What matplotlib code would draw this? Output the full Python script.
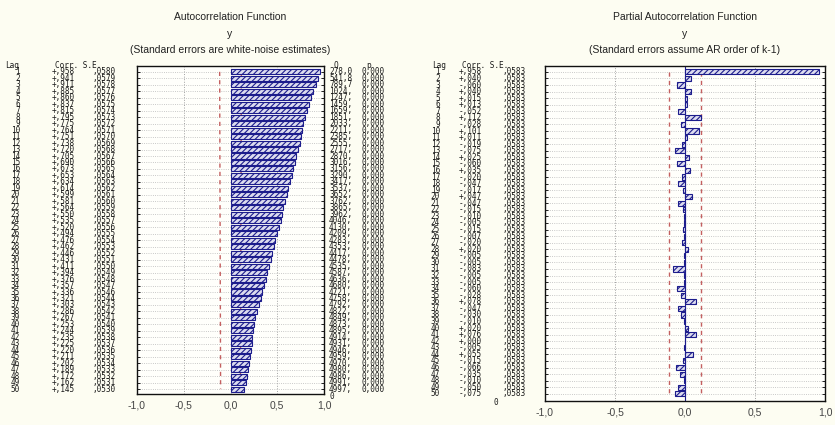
import matplotlib
matplotlib.use('Agg')
import matplotlib.pyplot as plt
import matplotlib.transforms as mtransforms

# ---- data ----
lags = list(range(1, 51))

acf_corr = [.958, .941, .911, .885, .860, .837, .815, .795, .775, .764,
            .751, .738, .720, .705, .690, .673, .653, .634, .614, .599,
            .581, .564, .550, .535, .520, .494, .476, .462, .446, .431,
            .411, .394, .376, .357, .336, .321, .303, .286, .267, .253,
            .244, .235, .225, .220, .211, .202, .189, .172, .162, .145]

acf_se = [.0580, .0579, .0578, .0577, .0576, .0575, .0574, .0573, .0572, .0571,
          .0570, .0569, .0568, .0567, .0566, .0565, .0564, .0563, .0562, .0561,
          .0560, .0559, .0558, .0557, .0556, .0555, .0554, .0553, .0552, .0551,
          .0550, .0549, .0548, .0547, .0546, .0544, .0543, .0542, .0541, .0540,
          .0539, .0538, .0537, .0536, .0535, .0534, .0533, .0532, .0531, .0530]

acf_q = [278.0, 541.8, 789.7, 1024, 1247, 1459, 1659, 1851, 2033, 2211,
         2385, 2555, 2717, 2870, 3016, 3156, 3290, 3417, 3537, 3652,
         3762, 3865, 3962, 4046, 4130, 4209, 4283, 4353, 4417, 4478,
         4535, 4587, 4636, 4680, 4721, 4758, 4792, 4822, 4849, 4873,
         4895, 4914, 4931, 4946, 4959, 4970, 4980, 4986, 4991, 4997]

pacf_corr = [.958, .040, -.060, .040, .015, .013, -.052, .112, -.028, .101,
             .011, -.019, -.075, .025, -.060, .035, -.020, -.047, -.017, .047,
             -.047, -.015, -.010, -.005, -.015, -.007, -.020, .020, -.005, -.005,
             -.083, -.005, -.005, -.060, -.028, .078, -.047, -.030, -.010, .020,
             .076, .000, -.005, .055, -.015, -.066, -.035, -.010, -.050, -.075]

pacf_se = [.0583] * 50

xticks = [-1.0, -0.5, 0.0, 0.5, 1.0]
xticklabels = ['-1,0', '-0,5', '0,0', '0,5', '1,0']

# ---- styling ----
W, H = 835, 425
BG = '#fdfdf2'
NAVY = '#1c1c8c'
DASH = '#c46060'
MONO = 'DejaVu Sans Mono'

plt.rcParams['hatch.linewidth'] = 0.8
plt.rcParams['font.family'] = ['Liberation Sans', 'DejaVu Sans']

fig = plt.figure(figsize=(W / 100, H / 100), dpi=100, facecolor=BG)


def box(x0, y0, x1, y1):
    return [x0 / W, 1 - y1 / H, (x1 - x0) / W, (y1 - y0) / H]


def fmt_corr(v):
    return ('-' if v < 0 else '+') + ',%03d' % round(abs(v) * 1000)


def fmt_se(v):
    return ',%04d' % round(v * 10000)


def fmt_q(v):
    if v < 1000:
        return ('%.1f' % v).replace('.', ',')
    return '%d,' % v


def setup(ax, ybottom):
    ax.set_facecolor('#fffffb')
    ax.set_xlim(-1, 1)
    ax.set_ylim(ybottom, 0.1)
    ax.set_xticks(xticks)
    ax.set_xticklabels(xticklabels, fontsize=7.5, color='#444444')
    ax.set_yticks(lags)
    ax.set_yticklabels([])
    ax.tick_params(axis='x', length=0, pad=5)
    ax.tick_params(axis='y', length=2, direction='in', left=True, right=True, width=0.6)
    ax.grid(axis='y', ls=':', color='#b8b8b8', lw=0.6)
    ax.grid(axis='x', ls=':', color='#a0a0a0', lw=0.7)
    ax.set_axisbelow(True)
    for s in ax.spines.values():
        s.set_linewidth(1.0)
        s.set_color('#111111')


def txt(ax, px, y, s, ha='left'):
    tr = mtransforms.blended_transform_factory(fig.transFigure, ax.transData)
    ax.text(px / W, y, s, transform=tr, ha=ha, va='center', fontsize=5.6,
            family=MONO, color='#1a1a1a', clip_on=False)


# ---- left panel: ACF ----
axL = fig.add_axes(box(137, 66, 324, 394))
setup(axL, 50.75)
axL.plot([-2 * s for s in acf_se], lags, ls=(0, (3, 3)), color=DASH, lw=1.0, zorder=1)
axL.plot([2 * s for s in acf_se], lags, ls=(0, (3, 3)), color=DASH, lw=1.0, zorder=1)
axL.barh(lags, acf_corr, height=0.78, color='#dcdcef', edgecolor=NAVY,
         hatch='//////', linewidth=0.8, zorder=3)

txt(axL, 5, 0.0, 'Lag')
txt(axL, 55, 0.0, 'Corr. S.E.')
txt(axL, 334, 0.0, 'Q')
txt(axL, 366, 0.0, 'p')
for i, lag in enumerate(lags):
    txt(axL, 20, lag, str(lag), ha='right')
    txt(axL, 52, lag, fmt_corr(acf_corr[i]))
    txt(axL, 93, lag, fmt_se(acf_se[i]))
    txt(axL, 329, lag, fmt_q(acf_q[i]))
    txt(axL, 362, lag, '0,000')
txt(axL, 330, 51.2, '0')

fig.text(230 / W, 1 - 17 / H, 'Autocorrelation Function', ha='center', va='center',
         fontsize=7.5, color='#222222')
fig.text(230 / W, 1 - 34 / H, 'y', ha='center', va='center', fontsize=7.5, color='#222222')
fig.text(230 / W, 1 - 50 / H, '(Standard errors are white-noise estimates)', ha='center',
         va='center', fontsize=7.5, color='#222222')

# ---- right panel: PACF ----
axR = fig.add_axes(box(545, 66, 825, 401))
setup(axR, 51.1)
axR.plot([-2 * s for s in pacf_se], lags, ls=(0, (3, 3)), color=DASH, lw=1.0, zorder=1)
axR.plot([2 * s for s in pacf_se], lags, ls=(0, (3, 3)), color=DASH, lw=1.0, zorder=1)
axR.axvline(0, color=NAVY, lw=0.8, zorder=2)
axR.barh(lags, pacf_corr, height=0.78, color='#dcdcef', edgecolor=NAVY,
         hatch='//////', linewidth=0.8, zorder=3)

txt(axR, 432, 0.0, 'Lag')
txt(axR, 462, 0.0, 'Corr. S.E.')
for i, lag in enumerate(lags):
    txt(axR, 440, lag, str(lag), ha='right')
    txt(axR, 459, lag, fmt_corr(pacf_corr[i]))
    txt(axR, 502, lag, fmt_se(pacf_se[i]))
txt(axR, 494, 51.3, '0')

fig.text(685 / W, 1 - 17 / H, 'Partial Autocorrelation Function', ha='center', va='center',
         fontsize=7.5, color='#222222')
fig.text(685 / W, 1 - 34 / H, 'y', ha='center', va='center', fontsize=7.5, color='#222222')
fig.text(685 / W, 1 - 50 / H, '(Standard errors assume AR order of k-1)', ha='center',
         va='center', fontsize=7.5, color='#222222')

fig.savefig('out.png', dpi=100, facecolor=BG)
